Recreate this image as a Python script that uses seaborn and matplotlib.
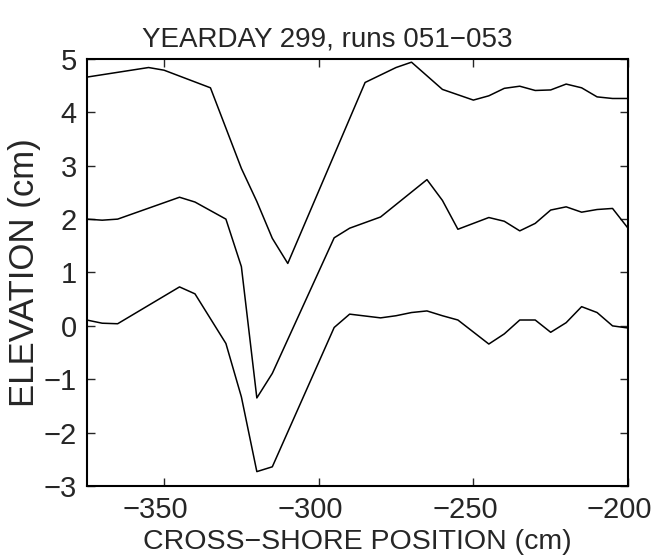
import matplotlib
matplotlib.use("Agg")
import matplotlib.pyplot as plt
import matplotlib.transforms as mtransforms
import seaborn as sns
import pandas as pd

# Top profile (run 051)
x_top = [-375, -365, -355, -350, -335, -325, -320, -315, -310, -285, -275, -270,
         -260, -250, -245, -240, -235, -230, -225, -220, -215, -210, -205, -200]
y_top = [4.66, 4.75, 4.84, 4.79, 4.46, 2.95, 2.33, 1.64, 1.17, 4.56, 4.84, 4.94,
         4.43, 4.23, 4.31, 4.45, 4.49, 4.41, 4.42, 4.53, 4.46, 4.29, 4.26, 4.26]

# Middle profile (run 052)
x_mid = [-375, -370, -365, -345, -340, -330, -325, -320, -315, -295, -290, -280,
         -265, -260, -255, -245, -240, -235, -230, -225, -220, -215, -210, -205, -200]
y_mid = [2.00, 1.98, 2.00, 2.41, 2.32, 2.00, 1.11, -1.35, -0.89, 1.65, 1.83, 2.04,
         2.74, 2.35, 1.81, 2.03, 1.96, 1.78, 1.92, 2.17, 2.23, 2.13, 2.18, 2.20, 1.83]

# Bottom profile (run 053)
x_bot = [-375, -370, -365, -345, -340, -330, -325, -320, -315, -295, -290, -280,
         -275, -270, -265, -260, -255, -245, -240, -235, -230, -225, -220, -215,
         -210, -205, -200]
y_bot = [0.11, 0.05, 0.04, 0.73, 0.60, -0.33, -1.33, -2.73, -2.64, -0.03, 0.22, 0.15,
         0.19, 0.25, 0.28, 0.19, 0.11, -0.34, -0.15, 0.11, 0.11, -0.12, 0.06, 0.36,
         0.25, 0.00, -0.04]

runs = ["051", "052", "053"]

x_ticks = [-350, -300, -250, -200]
y_ticks = [-3, -2, -1, 0, 1, 2, 3, 4, 5]

df = pd.concat([
    pd.DataFrame({"x": x_top, "y": y_top, "run": runs[0]}),
    pd.DataFrame({"x": x_mid, "y": y_mid, "run": runs[1]}),
    pd.DataFrame({"x": x_bot, "y": y_bot, "run": runs[2]}),
])

sns.set_style("ticks")
plt.rcParams["font.family"] = ["Liberation Sans", "DejaVu Sans"]
plt.rcParams["axes.unicode_minus"] = True

fig = plt.figure(figsize=(6.55, 5.58), dpi=100)
ax = fig.add_axes([0.1324, 0.129, 0.8264, 0.7653])

sns.lineplot(data=df, x="x", y="y", units="run", estimator=None, color="black",
             linewidth=1.1, ax=ax, legend=False)

ax.set_xlim(-375, -200)
ax.set_ylim(-3, 5)
ax.set_xticks(x_ticks)
ax.set_yticks(y_ticks)
ax.set_xticklabels([f"\u2212{abs(v)}" for v in x_ticks])
ax.set_yticklabels([f"\u2212{abs(v)}" if v < 0 else str(v) for v in y_ticks])
ax.tick_params(direction="in", length=6, width=1, top=True, right=True,
               labelsize=21, pad=7)
# digits centred on the tick, minus sign hanging to the left
shift = mtransforms.ScaledTranslation(-6.0 / 72, 0, fig.dpi_scale_trans)
for lbl in ax.get_xticklabels():
    lbl.set_transform(lbl.get_transform() + shift)

for s in ax.spines.values():
    s.set_visible(True)
    s.set_linewidth(1.5)
    s.set_color("black")

ax.set_xlabel("CROSS\u2212SHORE POSITION (cm)", fontsize=20.5, labelpad=4)
ax.set_ylabel("ELEVATION (cm)", fontsize=25, labelpad=2)
ax.set_title("YEARDAY 299, runs 051\u2212053", fontsize=20, pad=9, x=0.444)

fig.savefig("out.png", dpi=100)
